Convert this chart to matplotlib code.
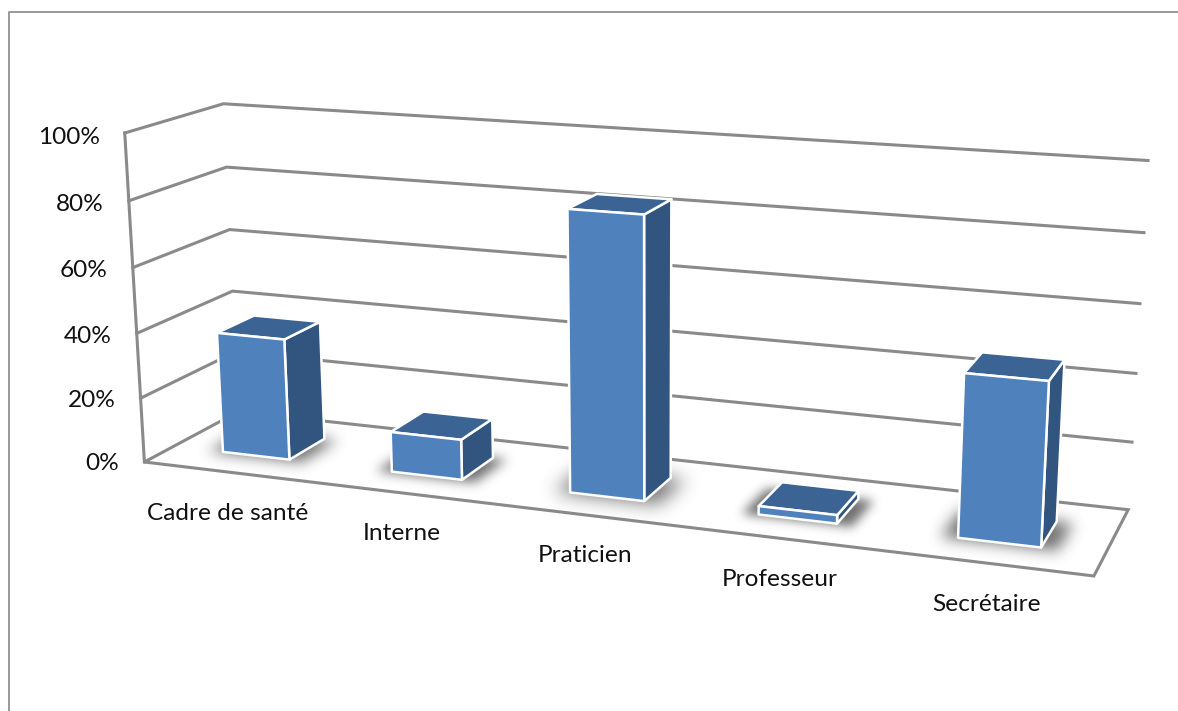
import numpy as np
import matplotlib
matplotlib.use("Agg")
import matplotlib.pyplot as plt
from matplotlib.patches import Polygon
from matplotlib.path import Path

categories = ["Cadre de santé", "Interne", "Praticien", "Professeur", "Secrétaire"]
values = [37.5, 12.3, 83.5, 2.5, 46.7]
ticks = [0, 20, 40, 60, 80, 100]
tick_labels = ["0%", "20%", "40%", "60%", "80%", "100%"]

plt.rcParams["font.family"] = ["Lato", "DejaVu Sans"]
GREY = "#8a8a8a"
FRONT, TOP, SIDE = "#4f81bd", "#3b6494", "#31557f"

# camera calibration: (category position, depth, percent) -> pixel
cal = []
for v, a, b, c in zip(ticks,
                      [(143, 462), (141, 398), (137, 333), (133, 268), (130, 201), (124, 133)],
                      [(239, 412), (236, 352), (232, 291), (229, 229), (227, 167), (223, 104)],
                      [(1128, 510), (1132, 441), (1136, 374), (1140, 304), (1144, 233), (1148, 160)]):
    cal += [((0, 0, v), a), ((0, 1, v), b), ((5, 1, v), c)]
cal.append(((5, 0, 0), (1094, 576)))
A, B = [], []
for (x, d, v), (u, w) in cal:
    A.append([x, d, v, 1, 0, 0, 0, 0, -u * x, -u * d, -u * v]); B.append(u)
    A.append([0, 0, 0, 0, x, d, v, 1, -w * x, -w * d, -w * v]); B.append(w)
s = np.linalg.lstsq(np.array(A, float), np.array(B, float), rcond=None)[0]
P = np.append(s, 1.0).reshape(3, 4)


def proj(x, d, v):
    h = P @ np.array([x, d, v, 1.0])
    return h[0] / h[2], h[1] / h[2]


def blur(a, sigma):
    r = int(3 * sigma)
    t = np.arange(-r, r + 1)
    g = np.exp(-t * t / (2 * sigma * sigma))
    g /= g.sum()
    a = np.apply_along_axis(lambda m: np.convolve(m, g, mode="same"), 0, a)
    return np.apply_along_axis(lambda m: np.convolve(m, g, mode="same"), 1, a)


fig = plt.figure(figsize=(11.78, 7.11), dpi=100)
ax = fig.add_axes([0, 0, 1, 1])

# outer frame
ax.plot([9, 9, 1178], [711, 12, 12], color="#999999", lw=1.4, zorder=1)


def line(pts, **kw):
    xy = np.array([proj(*p) for p in pts])
    ax.plot(xy[:, 0], xy[:, 1], color=GREY, lw=2.2, solid_joinstyle="miter", **kw)


for v in ticks:
    if v == 0:
        line([(0, 1, 0), (0, 0, 0), (5, 0, 0), (5, 1, 0), (0, 1, 0)], zorder=2)
    else:
        line([(0, 0, v), (0, 1, v), (5, 1, v)], zorder=2)
line([(0, 0, 0), (0, 0, 100)], zorder=2)

for v, lab in zip(ticks, tick_labels):
    x, y = proj(0, 0, v)
    ax.text(x - 25, y + 1.5 + 0.03 * v, lab, ha="right", va="center", fontsize=17.6, color="#111111")

W, D0, D1 = 0.4, 0.3, 0.7
for i, (cat, val) in enumerate(zip(categories, values)):
    x0, x1 = i + 0.5 - W / 2, i + 0.5 + W / 2
    # soft blurred floor shadow
    g = 0.08
    fp = np.array([proj(x0 - g, D0 - 0.02, 0), proj(x1 + g, D0 - 0.02, 0),
                   proj(x1 + g, D1, 0), proj(x0 - g, D1, 0)])
    pad = 40
    lx, ly = int(fp[:, 0].min()) - pad, int(fp[:, 1].min()) - pad
    hx, hy = int(fp[:, 0].max()) + pad, int(fp[:, 1].max()) + pad
    xx, yy = np.meshgrid(np.arange(lx, hx) + 0.5, np.arange(ly, hy) + 0.5)
    mask = Path(fp).contains_points(np.c_[xx.ravel(), yy.ravel()]).reshape(xx.shape).astype(float)
    alpha = blur(mask, 5 + 0.05 * val) * 0.72
    rgba = np.zeros(mask.shape + (4,))
    rgba[..., :3] = 0.22
    rgba[..., 3] = alpha
    ax.imshow(rgba, extent=(lx, hx, hy, ly), zorder=3 + i, interpolation="bilinear", aspect="auto")
    z = 4 + i
    front = [proj(x0, D0, 0), proj(x1, D0, 0), proj(x1, D0, val), proj(x0, D0, val)]
    side = [proj(x1, D0, 0), proj(x1, D1, 0), proj(x1, D1, val), proj(x1, D0, val)]
    top = [proj(x0, D0, val), proj(x1, D0, val), proj(x1, D1, val), proj(x0, D1, val)]
    for pts, col in ((side, SIDE), (top, TOP), (front, FRONT)):
        ax.add_patch(Polygon(pts, closed=True, fc=col, ec="white", lw=1.8,
                             joinstyle="round", zorder=z))
    lxp, lyp = proj(i + 0.5, 0, 0)
    ax.text(lxp, lyp + 41, cat, ha="center", va="center", fontsize=17.6, color="#111111", zorder=20)

ax.set_xlim(0, 1178)
ax.set_ylim(711, 0)
ax.axis("off")
fig.savefig("out.png", dpi=100)
